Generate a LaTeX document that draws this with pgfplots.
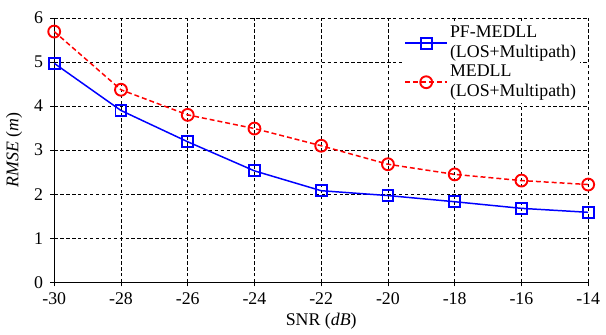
\documentclass[border=0pt]{standalone}
\usepackage{fontspec}
\setmainfont{Liberation Serif}
\usepackage{pgfplots}
\pgfplotsset{compat=1.18}
\begin{document}
\fontsize{18}{20}\selectfont
\begin{tikzpicture}
\begin{axis}[
  scale only axis,
  width=537bp, height=266bp,
  xmin=-30, xmax=-14, ymin=0, ymax=6,
  xtick={-30,-28,...,-14}, ytick={0,1,...,6},
  axis x line*=bottom, axis y line*=left,
  axis line style={-, line width=0.8pt},
  tick align=outside, tick style={black, line width=0.6pt, major tick length=4pt},
  grid=major,
  grid style={black, dashed, line width=0.6pt, dash pattern=on 3.5pt off 2.5pt},
  /pgf/number format/assume math mode=true,
  ticklabel style={font=\fontsize{18}{20}\selectfont},
  xticklabel style={yshift=0pt},
  yticklabel style={xshift=-1pt},
  xlabel={SNR (\textit{dB})}, ylabel={\textit{RMSE} (\textit{m})},
  label style={font=\fontsize{18}{20}\selectfont},
  xlabel style={yshift=4pt},
  ylabel style={yshift=0pt},
  legend style={at={(0.985,0.985)}, anchor=north east, draw=none, fill=white,
    font=\fontsize{18}{20}\selectfont, nodes={align=left}, row sep=1pt, inner sep=2pt},
  legend cell align=left,
  legend image code/.code={\draw[mark repeat=2,mark phase=2] plot coordinates {(0cm,0cm)(0.75cm,0cm)(1.5cm,0cm)};},
]
\addplot[blue, line width=1.5pt, mark=square, mark size=5.5pt, mark options={solid, line width=1.9pt, fill=white}]
  coordinates {(-30,4.97)(-28,3.90)(-26,3.19)(-24,2.53)(-22,2.08)(-20,1.97)(-18,1.83)(-16,1.68)(-14,1.59)};
\addlegendentry{PF-MEDLL\\(LOS+Multipath)}
\addplot[red, line width=1.5pt, dashed, dash pattern=on 5pt off 3pt, mark=o, mark size=6pt, mark options={solid, line width=1.9pt, fill=white}]
  coordinates {(-30,5.69)(-28,4.37)(-26,3.80)(-24,3.49)(-22,3.10)(-20,2.68)(-18,2.45)(-16,2.31)(-14,2.22)};
\addlegendentry{MEDLL\\(LOS+Multipath)}
\end{axis}
\path ([yshift=18bp]current axis.north);
\end{tikzpicture}
\end{document}
